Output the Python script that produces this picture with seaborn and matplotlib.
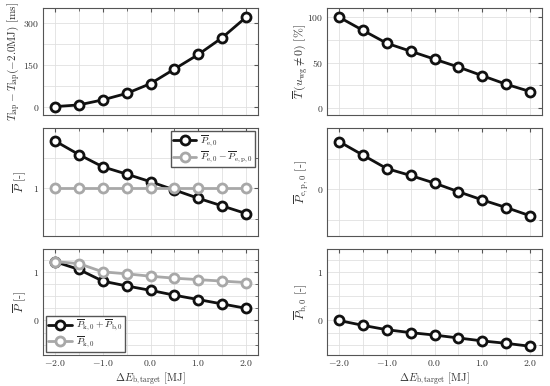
import numpy as np
import pandas as pd
import matplotlib
matplotlib.use("Agg")
import matplotlib.pyplot as plt
from matplotlib.ticker import FixedLocator, FixedFormatter, MultipleLocator
import seaborn as sns

# data
dE = [-2.0, -1.5, -1.0, -0.5, 0.0, 0.5, 1.0, 1.5, 2.0]
lap_delta = [0, 6, 24, 47, 82, 134, 186, 246, 319]
wg_share = [100, 85.5, 71.3, 62.5, 53.8, 45.1, 35.6, 26.2, 18.2]
P_e0 = [1.786, 1.560, 1.357, 1.236, 1.110, 0.973, 0.835, 0.709, 0.582]
P_e0_minus_ep0 = [1.0, 1.0, 1.0, 1.0, 1.0, 1.0, 1.0, 1.0, 1.0]
P_ep0 = [0.780, 0.559, 0.339, 0.226, 0.102, -0.038, -0.172, -0.296, -0.430]
P_k0_plus_b0 = [1.21, 1.05, 0.81, 0.71, 0.62, 0.52, 0.43, 0.34, 0.25]
P_k0 = [1.21, 1.17, 1.00, 0.96, 0.91, 0.87, 0.84, 0.81, 0.78]
P_b0 = [0.0, -0.10, -0.19, -0.25, -0.30, -0.36, -0.42, -0.47, -0.53]

sns.set_style("whitegrid")
plt.rcParams["font.family"] = ["DejaVu Serif"]
plt.rcParams["mathtext.fontset"] = "cm"

TXT = "#333333"
BLACK = "#111111"
GRAY = "#a8a8a8"
LAB = 8.6

fig = plt.figure(figsize=(5.5, 3.86), dpi=100, facecolor="white")
lefts = [43 / 550, 327 / 550]
w = 215 / 550
rows = [(8, 115), (128, 236), (249, 355)]
axes = []
for top, bot in rows:
    row = []
    for l in lefts:
        row.append(fig.add_axes([l, 1 - bot / 386, w, (bot - top) / 386]))
    axes.append(row)


def draw(ax, y, color, label=None):
    sns.lineplot(x=dE, y=y, ax=ax, color=color, lw=2, marker="o", ms=6.5,
                 mfc="white", mec=color, mew=2, label=label, zorder=3)


def style(ax, ylim, yticks, ylabels, minor, ylab, col, xlab=False, fs=LAB,
          ylx=None):
    ax.set_xlim(-2.25, 2.25)
    ax.set_ylim(*ylim)
    ax.xaxis.set_major_locator(FixedLocator([-2, -1, 0, 1, 2]))
    ax.xaxis.set_minor_locator(MultipleLocator(0.5))
    ax.yaxis.set_major_locator(FixedLocator(yticks))
    ax.yaxis.set_major_formatter(FixedFormatter(ylabels))
    ax.yaxis.set_minor_locator(MultipleLocator(minor))
    if xlab:
        ax.set_xticklabels([r"$-2.0$", r"$-1.0$", r"$0.0$", r"$1.0$", r"$2.0$"])
        ax.set_xlabel(r"$\Delta E_{\mathrm{b,target}}$ $\mathrm{[MJ]}$",
                      color=TXT, fontsize=7.8, va="top")
        ax.xaxis.set_label_coords(0.5, -0.14)
    else:
        ax.set_xticklabels([])
    ax.set_ylabel(ylab, color=TXT, fontsize=fs, va="center")
    if ylx is None:
        ylx = -0.107 if col == 0 else -0.118
    ax.yaxis.set_label_coords(ylx, 0.5)
    ax.grid(True, which="both", color="#e0e0e0", lw=0.6)
    ax.tick_params(which="both", direction="in", top=True, right=True,
                   colors="#555555", labelcolor=TXT, labelsize=7, pad=2.5)
    ax.tick_params(which="major", length=3)
    ax.tick_params(which="minor", length=2)
    for s in ax.spines.values():
        s.set_color("#555555")
        s.set_linewidth(0.8)
    ax.set_facecolor("white")


leg_kw = dict(fontsize=7, frameon=True, fancybox=False, edgecolor="#555555",
              handlelength=2.4, borderpad=0.2, labelspacing=0.1,
              handletextpad=0.4, borderaxespad=0.35, framealpha=1)

ax = axes[0][0]
draw(ax, lap_delta, BLACK)
style(ax, (-30, 352), [0, 150, 300], [r"$0$", r"$150$", r"$300$"], 75,
      r"$T_{\mathrm{lap}} - T_{\mathrm{lap}}(-2.0\mathrm{MJ})$ $\mathrm{[ms]}$",
      0, fs=8, ylx=-0.135)

ax = axes[0][1]
draw(ax, wg_share, BLACK)
style(ax, (-7.6, 110), [0, 50, 100], [r"$0$", r"$50$", r"$100$"], 25,
      r"$\overline{T}\,(u_{\mathrm{wg}} \neq 0)$ $\mathrm{[\%]}$", 1)

ax = axes[1][0]
draw(ax, P_e0, BLACK, r"$\overline{P}_{\mathrm{e},0}$")
draw(ax, P_e0_minus_ep0, GRAY,
     r"$\overline{P}_{\mathrm{e},0} - \overline{P}_{\mathrm{e,p},0}$")
style(ax, (0.21, 2.0), [1], [r"$1$"], 0.5,
      r"$\overline{P}$ $\mathrm{[\text{-}]}$", 0)
ax.legend(loc="upper right", **leg_kw)

ax = axes[1][1]
draw(ax, P_ep0, BLACK)
style(ax, (-0.76, 1.0), [0], [r"$0$"], 0.5,
      r"$\overline{P}_{\mathrm{e,p},0}$ $\mathrm{[\text{-}]}$", 1)

ax = axes[2][0]
draw(ax, P_k0_plus_b0, BLACK,
     r"$\overline{P}_{\mathrm{k},0} + \overline{P}_{\mathrm{b},0}$")
draw(ax, P_k0, GRAY, r"$\overline{P}_{\mathrm{k},0}$")
style(ax, (-0.71, 1.47), [0, 1], [r"$0$", r"$1$"], 0.25,
      r"$\overline{P}$ $\mathrm{[\text{-}]}$", 0, xlab=True)
ax.legend(loc="lower left", **leg_kw)

ax = axes[2][1]
draw(ax, P_b0, BLACK)
style(ax, (-0.71, 1.47), [0, 1], [r"$0$", r"$1$"], 0.25,
      r"$\overline{P}_{\mathrm{b},0}$ $\mathrm{[\text{-}]}$", 1, xlab=True)

fig.savefig("out.png", dpi=100, facecolor="white")
